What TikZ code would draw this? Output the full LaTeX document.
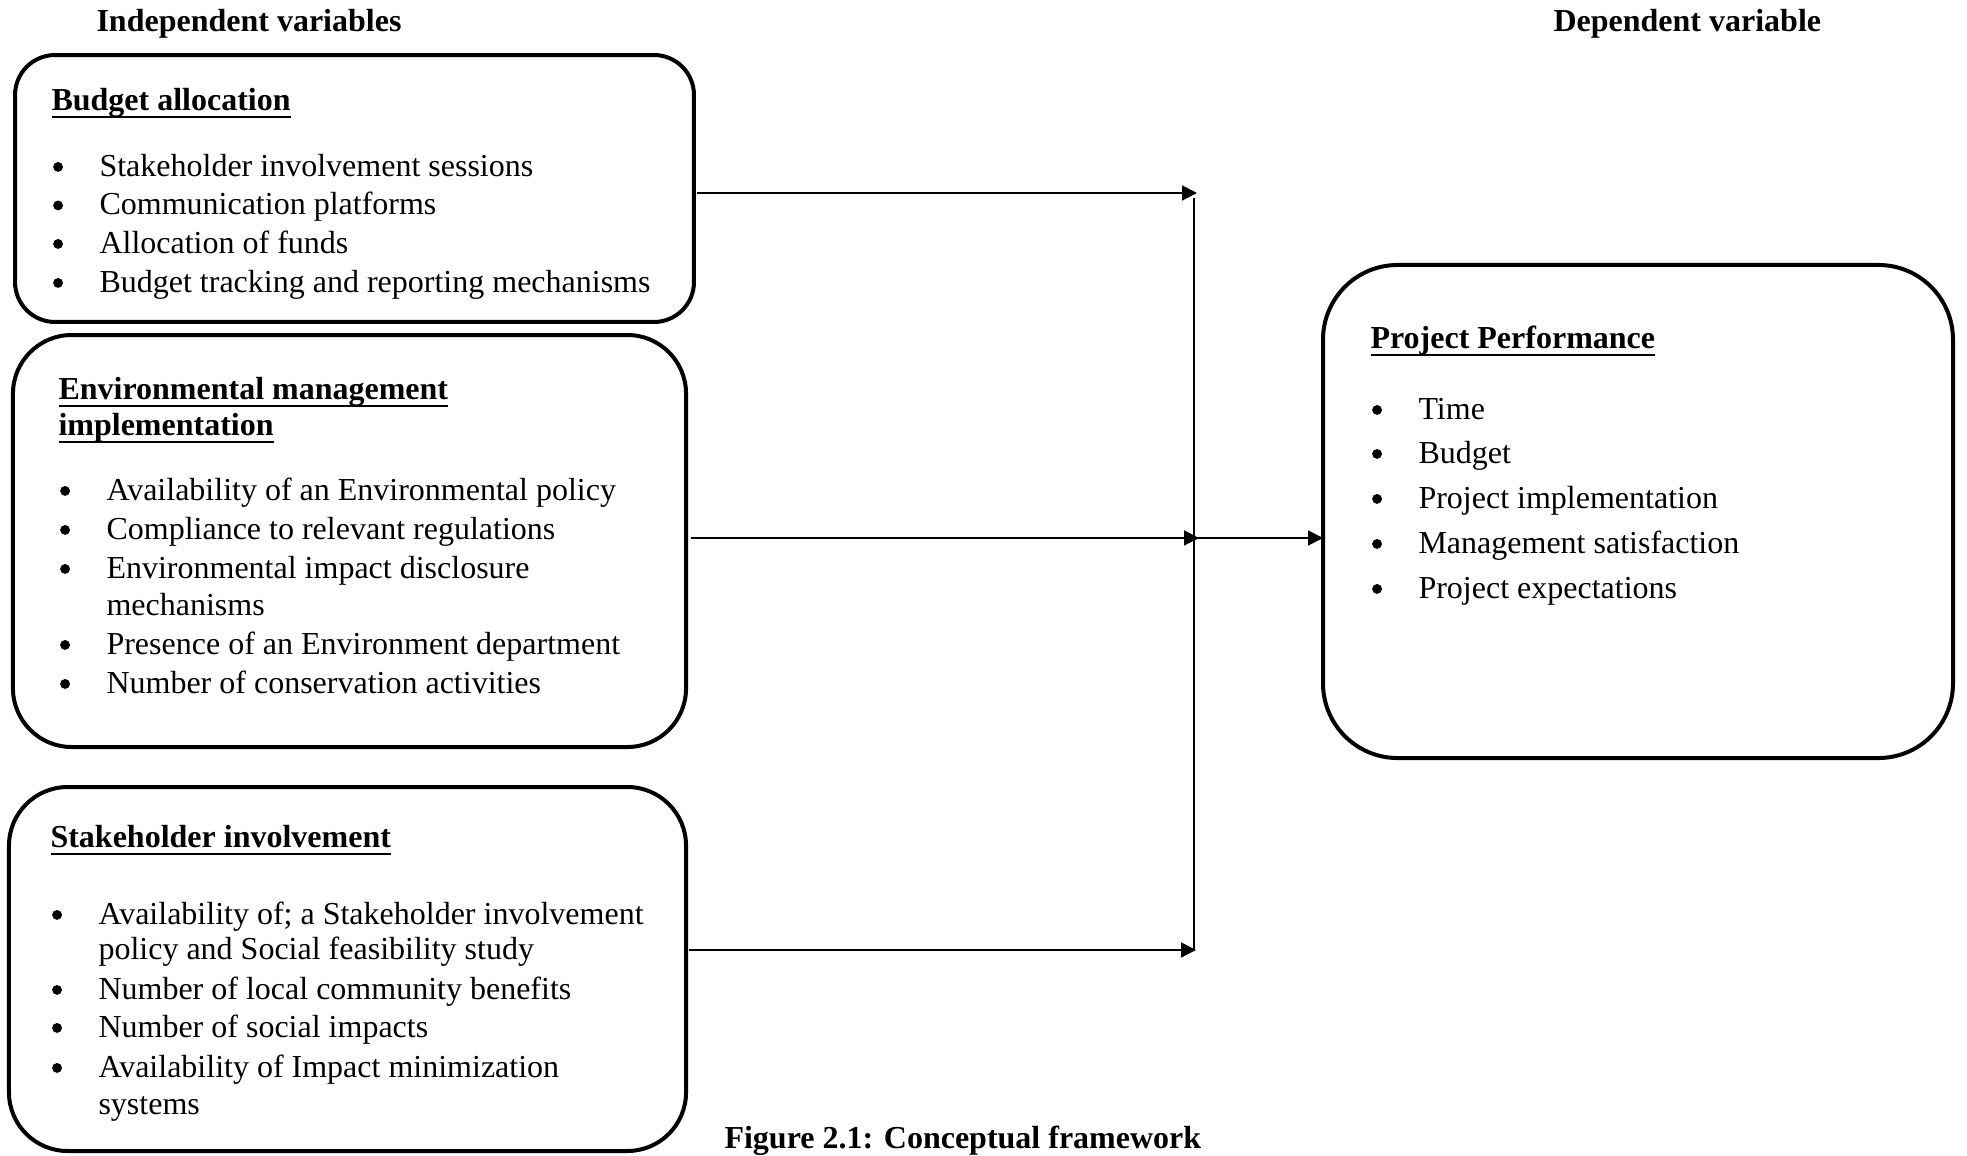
\documentclass[tikz,border=0pt]{standalone}
\usepackage{fontspec}
\setmainfont{Liberation Serif}
\usetikzlibrary{arrows.meta}
\newcommand{\itembul}{\llap{\tikz[baseline=-3.4pt]\fill (0,0) circle[radius=1.85pt];\hspace{13.7pt}}}
\newcommand{\ulbox}[1]{\setbox0\hbox{#1}\rlap{\rule[-3pt]{\wd0}{0.9pt}}\box0}
\begin{document}
\begin{tikzpicture}[x=0.375pt, y=-0.375pt,
  box/.style={draw, line width=1.5pt, inner sep=0pt, outer sep=0pt},
  txt/.style={anchor=base west, inner sep=0pt, font=\fontsize{12}{14}\selectfont},
  hdr/.style={anchor=base west, inner sep=0pt, font=\fontsize{12}{14}\selectfont\bfseries},
  arr/.style={line width=0.75pt, -{Triangle[length=5.6pt,width=5.6pt]}},
  ln/.style={line width=0.75pt}]
\useasboundingbox (0,0) rectangle (1967,1156);

% boxes
\node[box, rounded corners=15pt, minimum width=254.6pt, minimum height=100.1pt] (b1) at (354.5,188.5) {};
\node[box, rounded corners=22pt, minimum width=252.4pt, minimum height=154.5pt] (b2) at (349.5,541) {};
\node[box, rounded corners=22pt, minimum width=253.9pt, minimum height=136.5pt] (b3) at (347.5,969) {};
\node[box, rounded corners=28pt, minimum width=236.25pt, minimum height=184.9pt] (b4) at (1638,511.5) {};

% headers
\node[hdr] (hi) at (96,32) {Independent variables};
\node[hdr] (hd) at (1553,32) {Dependent variable};

% box 1
\node[hdr] (t1) at (51,110) {\ulbox{Budget allocation}};
\node[txt] (b1a) at (99,176) {\itembul Stakeholder involvement sessions};
\node[txt] (b1b) at (99,214.5) {\itembul Communication platforms};
\node[txt] (b1c) at (99,253) {\itembul Allocation of funds};
\node[txt] (b1d) at (99,292) {\itembul Budget tracking and reporting mechanisms};

% box 2
\node[hdr] (t2a) at (58,399) {\ulbox{Environmental management}};
\node[hdr] (t2b) at (58,435) {\ulbox{implementation}};
\node[txt] (b2a) at (106,500) {\itembul Availability of an Environmental policy};
\node[txt] (b2b) at (106,539) {\itembul Compliance to relevant regulations};
\node[txt] (b2c) at (106,578) {\itembul Environmental impact disclosure};
\node[txt] (b2d) at (106,615) {mechanisms};
\node[txt] (b2e) at (106,654) {\itembul Presence of an Environment department};
\node[txt] (b2f) at (106,693) {\itembul Number of conservation activities};

% box 3
\node[hdr] (t3) at (50,847) {\ulbox{Stakeholder involvement}};
\node[txt] (b3a) at (98,924) {\itembul Availability of; a Stakeholder involvement};
\node[txt] (b3b) at (98,959) {policy and Social feasibility study};
\node[txt] (b3c) at (98,999) {\itembul Number of local community benefits};
\node[txt] (b3d) at (98,1037) {\itembul Number of social impacts};
\node[txt] (b3e) at (98,1077) {\itembul Availability of Impact minimization};
\node[txt] (b3f) at (98,1114) {systems};

% box 4
\node[hdr] (t4) at (1370,348) {\ulbox{Project Performance}};
\node[txt] (b4a) at (1418,419) {\itembul Time};
\node[txt] (b4b) at (1418,463) {\itembul Budget};
\node[txt] (b4c) at (1418,508) {\itembul Project implementation};
\node[txt] (b4d) at (1418,553) {\itembul Management satisfaction};
\node[txt] (b4e) at (1418,598) {\itembul Project expectations};

% caption
\node[hdr] (cap) at (724,1148) {Figure 2.1: Conceptual framework};

% connectors
\coordinate (t1e) at (1197,193);
\coordinate (t2e) at (1199,538);
\coordinate (t3e) at (1196,950);
\coordinate (v1) at (1194,198);
\coordinate (v3) at (1194,950);
\coordinate (hub) at (1194,538);
\draw[arr] ([xshift=1.2pt]b1.east |- t1e) -- (t1e);
\draw[arr] ([xshift=2pt]b2.east |- t2e) -- (t2e);
\draw[arr] ([xshift=1pt]b3.east |- t3e) -- (t3e);
\draw[ln] (v1) -- (v3);
\draw[arr] (hub) -- (b4.west |- hub);
\end{tikzpicture}
\end{document}
